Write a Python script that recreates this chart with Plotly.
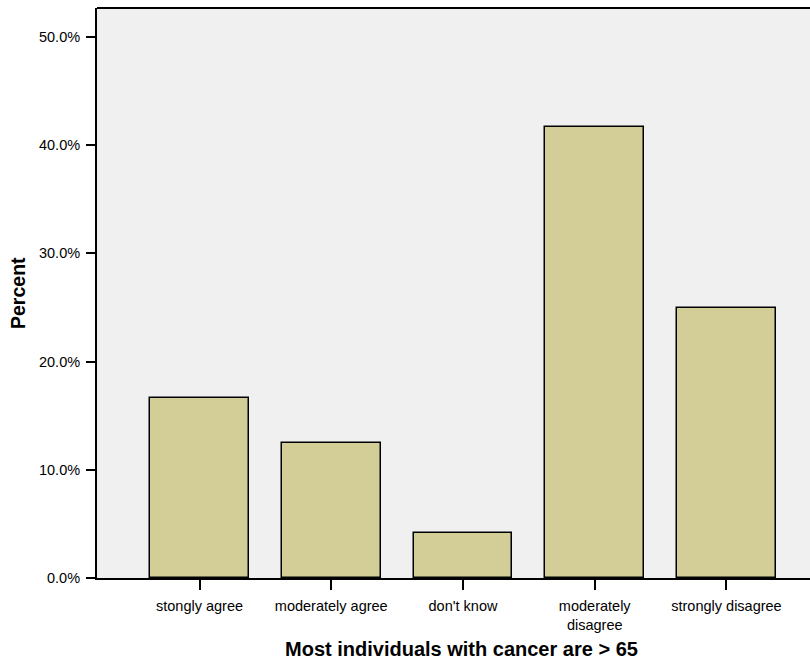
import plotly.graph_objects as go

categories = ["stongly agree", "moderately agree", "don't know", "moderately<br>disagree", "strongly disagree"]
percents = [16.67, 12.5, 4.17, 41.67, 25.0]
y_ticks = [0, 10, 20, 30, 40, 50]
y_tick_labels = ["0.0%", "10.0%", "20.0%", "30.0%", "40.0%", "50.0%"]
x_title = "Most individuals with cancer are > 65"
y_title = "Percent"

fig = go.Figure(go.Bar(
    x=list(range(len(categories))),
    y=percents,
    width=0.75,
    marker=dict(color="#d3ce97", line=dict(color="black", width=1.5)),
    hoverinfo="skip",
))

fig.update_layout(
    width=810, height=659,
    margin=dict(l=97, r=0, t=8, b=81, autoexpand=False),
    paper_bgcolor="white",
    plot_bgcolor="#f0f0f0",
    font=dict(family="Liberation Sans, Arial, sans-serif", size=14.5, color="black"),
    showlegend=False,
    bargap=0,
    xaxis=dict(
        range=[-0.778, 4.634],
        tickmode="array",
        tickvals=list(range(len(categories))),
        ticktext=categories,
        ticks="outside", ticklen=10, tickwidth=1.5, tickcolor="black",
        ticklabelstandoff=4,
        showline=True, linecolor="black", linewidth=2,
        showgrid=False, zeroline=False, automargin=False,
    ),
    yaxis=dict(
        range=[0, 52.68],
        tickmode="array",
        tickvals=y_ticks,
        ticktext=y_tick_labels,
        ticks="outside", ticklen=9, tickwidth=1.5, tickcolor="black",
        ticklabelstandoff=3,
        showline=True, linecolor="black", linewidth=2,
        showgrid=False, zeroline=False, automargin=False,
    ),
    shapes=[dict(type="line", xref="paper", yref="paper", x0=0, x1=1, y0=1, y1=1,
                 line=dict(color="black", width=2))],
    annotations=[
        dict(text="<b>" + x_title + "</b>", xref="paper", yref="paper",
             x=(461 - 97) / 713, y=(578 - 648.5) / 570, xanchor="center", yanchor="middle",
             height=20, valign="middle",
             showarrow=False, font=dict(size=20)),
        dict(text="<b>" + y_title + "</b>", xref="paper", yref="paper",
             x=(18 - 97) / 713, y=0.5, xanchor="center", yanchor="middle",
             textangle=-90, showarrow=False, font=dict(size=19.5)),
    ],
)

fig.write_html("out.html", config={"displayModeBar": False},
               post_script="document.body.style.margin='0';document.body.style.overflow='hidden';")
